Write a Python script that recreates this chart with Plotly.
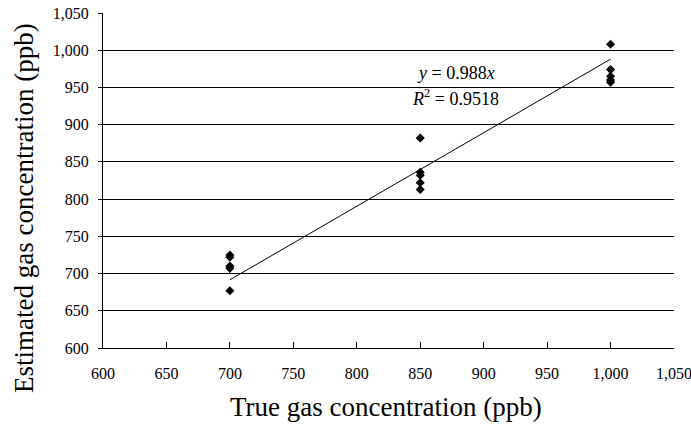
import plotly.graph_objects as go

x_true = [700]*5 + [850]*5 + [1000]*5
y_est = [725, 722, 710, 707, 677,
         882, 836, 832, 822, 813,
         1008, 974, 965, 960, 957]
slope = 0.988
r2 = 0.9518
fit_x = [700, 1000]
fit_y = [slope * v for v in fit_x]
tick_vals = list(range(600, 1051, 50))
tick_text = [f"{v:,}" for v in tick_vals]

font = "Liberation Serif"

fig = go.Figure()
fig.add_trace(go.Scatter(x=fit_x, y=fit_y, mode="lines",
                         line=dict(color="black", width=1), showlegend=False))
fig.add_trace(go.Scatter(x=x_true, y=y_est, mode="markers",
                         marker=dict(symbol="diamond", size=7, color="black"),
                         showlegend=False))

fig.add_annotation(x=878, y=969, xref="x", yref="y",
                   text="<i>y</i> = 0.988<i>x</i>", showarrow=False,
                   font=dict(family=font, size=18, color="black"))
fig.add_annotation(x=878, y=936, xref="x", yref="y",
                   text=f"<i>R</i><sup>2</sup> = {r2}", showarrow=False,
                   font=dict(family=font, size=18, color="black"))

# axis titles
fig.add_annotation(x=-0.1384, y=0.418, xref="paper", yref="paper",
                   text="Estimated gas concentration (ppb)", textangle=-90,
                   showarrow=False, xanchor="center", yanchor="middle",
                   font=dict(family=font, size=27, color="black"))
fig.add_annotation(x=0.4956, y=-0.176, xref="paper", yref="paper",
                   text="True gas concentration (ppb)",
                   showarrow=False, xanchor="center", yanchor="middle",
                   font=dict(family=font, size=27, color="black"))

fig.update_layout(
    width=691, height=424,
    margin=dict(l=103, r=17, t=13, b=76),
    paper_bgcolor="white", plot_bgcolor="white",
    font=dict(family=font, color="black"),
    xaxis=dict(range=[600, 1050], tickvals=tick_vals, ticktext=tick_text,
               showgrid=False, zeroline=False, showline=True, linecolor="black",
               linewidth=1, ticks="inside", ticklen=6, tickcolor="black",
               automargin=False, ticklabelstandoff=11, ticklabeloverflow="allow",
               tickfont=dict(size=16, family=font)),
    yaxis=dict(range=[600, 1050], tickvals=tick_vals, ticktext=tick_text,
               showgrid=True, gridcolor="black", gridwidth=1, zeroline=False,
               showline=True, linecolor="black", linewidth=1,
               ticks="outside", ticklen=4, tickcolor="black",
               automargin=False, ticklabelstandoff=6, ticklabeloverflow="allow",
               tickfont=dict(size=16, family=font)),
)

fig.write_html("out.html")
